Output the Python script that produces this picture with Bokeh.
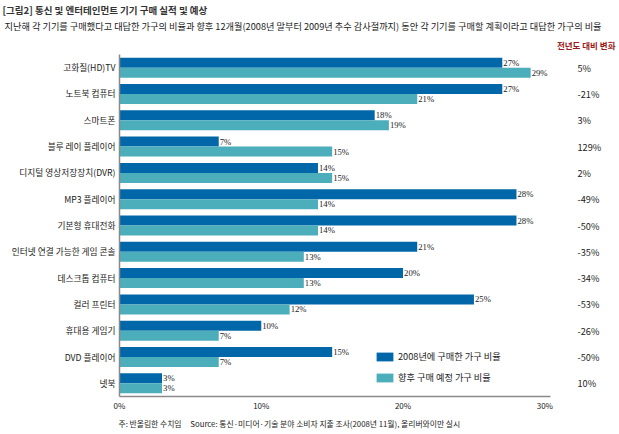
from bokeh.plotting import figure
from bokeh.models import (ColumnDataSource, LabelSet, Legend, LegendItem,
                          Title, LinearAxis, Range1d, FixedTicker)
from bokeh.transform import dodge
from bokeh.embed import file_html
from bokeh.resources import INLINE

categories = ["고화질(HD)TV", "노트북 컴퓨터", "스마트폰", "블루 레이 플레이어",
              "디지털 영상저장장치(DVR)", "MP3 플레이어", "기본형 휴대전화",
              "인터넷 연결 가능한 게임 콘솔", "데스크톱 컴퓨터", "컬러 프린터",
              "휴대용 게임기", "DVD 플레이어", "넷북"]
bought_2008 = [27, 27, 18, 7, 14, 28, 28, 21, 20, 25, 10, 15, 3]
plan_next = [29, 21, 19, 15, 15, 14, 14, 13, 13, 12, 7, 7, 3]
yoy_change = ["5%", "-21%", "3%", "129%", "2%", "-49%", "-50%", "-35%", "-34%",
              "-53%", "-26%", "-50%", "10%"]
x_ticks = [0, 10, 20, 30]
series_names = ["2008년에 구매한 가구 비율", "향후 구매 예정 가구 비율"]

FONT = "Noto Sans CJK KR"
DARK = "#0167a8"
LIGHT = "#4cadbb"
TXT = "#222222"

W, H = 618, 433
FL, FT, FB_B = 119, 53, 37
XMAX = 30.4
FW = 431                      # frame width
FR = W - FL - FW

n = len(categories)
row_pos = [n - i - 0.5 for i in range(n)]   # first category at the top

src = ColumnDataSource(dict(
    pos=row_pos, bought=bought_2008, plan=plan_next,
    bought_lbl=[f"{v}%" for v in bought_2008], plan_lbl=[f"{v}%" for v in plan_next],
))

p = figure(width=W, height=H, output_backend="svg", toolbar_location=None,
           y_range=Range1d(0, n), x_range=Range1d(0, XMAX),
           min_border_left=FL, min_border_right=FR, min_border_top=FT, min_border_bottom=FB_B)
p.outline_line_color = None
p.xgrid.grid_line_color = None
p.ygrid.grid_line_color = None
p.background_fill_color = "white"

BH = 0.38
r1 = p.hbar(y=dodge("pos", BH / 2), right="bought", left=0, height=BH,
            source=src, fill_color=DARK, line_color=None)
r2 = p.hbar(y=dodge("pos", -BH / 2), right="plan", left=0, height=BH,
            source=src, fill_color=LIGHT, line_color=None)

for col, xcol, off in (("bought_lbl", "bought", BH / 2), ("plan_lbl", "plan", -BH / 2)):
    p.add_layout(LabelSet(x=xcol, y=dodge("pos", off), text=col, source=src,
                          x_offset=1, text_baseline="middle", text_align="left",
                          text_font=FONT, text_font_size="8.7px", text_color=TXT))

# axes
p.xaxis.ticker = x_ticks
p.xaxis.major_label_overrides = {t: f"{t}%" for t in x_ticks}
p.xaxis.major_label_text_font_size = "8px"
p.xaxis.major_label_standoff = 3

p.yaxis.ticker = FixedTicker(ticks=row_pos, minor_ticks=[])
p.yaxis.major_label_overrides = dict(zip(row_pos, categories))
p.yaxis.major_label_text_font_size = "8.7px"
p.yaxis.major_label_standoff = 4

# right-hand column: change vs. previous year
rax = LinearAxis(ticker=FixedTicker(ticks=row_pos, minor_ticks=[]),
                 major_label_overrides=dict(zip(row_pos, yoy_change)))
p.add_layout(rax, "right")
rax.axis_line_color = None
rax.major_label_text_font_size = "9.2px"
rax.major_label_standoff = 27

for ax in (p.xaxis[0], p.yaxis[0], rax):
    if ax is not rax:
        ax.axis_line_color = "#8a8a8a"
        ax.axis_line_width = 1.5
    ax.major_tick_line_color = None
    ax.minor_tick_line_color = None
    ax.major_tick_out = 0
    ax.major_tick_in = 0
    ax.minor_tick_out = 0
    ax.major_label_text_font = FONT
    ax.major_label_text_color = TXT

legend = Legend(items=[LegendItem(label=series_names[0], renderers=[r1]),
                       LegendItem(label=series_names[1], renderers=[r2])],
                location=(374 - FL, 12), orientation="vertical",
                glyph_width=21, glyph_height=11, label_height=11, label_standoff=3,
                spacing=7, padding=0, margin=0, border_line_color=None,
                background_fill_alpha=0,
                label_text_font=FONT, label_text_font_size="9.2px", label_text_color=TXT)
p.add_layout(legend)

# titles (later "above" items sit farther from the frame)
p.add_layout(Title(text="전년도 대비 변화", align="right", offset=-(615 - (FL + FW)),
                   text_font=FONT, text_font_size="8.5px", text_color="#9b1c1c",
                   text_font_style="bold", standoff=8), "above")
p.add_layout(Title(text="지난해 각 기기를 구매했다고 대답한 가구의 비율과 향후 12개월(2008년 말부터 2009년 추수 감사절까지) 동안 각 기기를 구매할 계획이라고 대답한 가구의 비율",
                   align="left", offset=-(FL - 4), text_font=FONT, text_font_size="9.2px",
                   text_color=TXT, text_font_style="normal", standoff=0), "above")
p.add_layout(Title(text="[그림2] 통신 및 엔터테인먼트 기기 구매 실적 및 예상", align="left",
                   offset=-(FL - 2), text_font=FONT, text_font_size="9.5px", text_color="#333333",
                   text_font_style="bold", standoff=0), "above")
p.add_layout(Title(text="주: 반올림한 수치임\u00a0\u00a0\u00a0\u00a0\u00a0Source: 통신·미디어·기술 분야 소비자 지출 조사(2008년 11월), 올리버와이만 실시",
                   align="left", offset=-1, text_font=FONT, text_font_size="7.8px",
                   text_color=TXT, text_font_style="normal", standoff=4), "below")

open("out.html", "w").write(file_html(p, INLINE))
